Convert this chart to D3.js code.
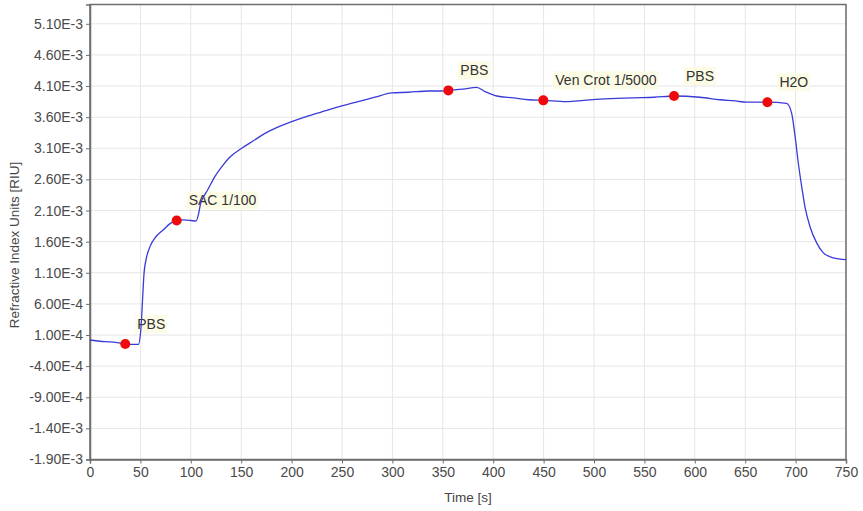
<!DOCTYPE html>
<html>
<head>
<meta charset="utf-8">
<script src="https://cdn.jsdelivr.net/npm/d3@7"></script>
<style>
  body { margin: 0; background: #fff; }
  svg { display: block; font-family: "Liberation Sans", Arial, sans-serif; }
</style>
</head>
<body>
<div id="chart"></div>
<script>
// sensorgram, time in s, response in RIU
const time = [0, 10, 20, 30, 35, 42, 48, 50.5, 52.3, 53.6, 55.6, 59.5, 64.5, 72.8, 79.4, 86, 92.6, 100, 105.2,
    107.5, 109.8, 112, 116.7, 124, 130.6, 138.9, 150.5, 162, 173.6, 183.5, 200, 216.6, 233, 249.7, 266, 282.7,
    299.3, 315.8, 335.6, 348.9, 355.5, 370, 383.6, 392, 403.5, 420, 435, 449.7, 472.9, 490, 506, 539, 560,
    579.4, 605, 625, 640, 651.5, 672, 691, 696, 699.5, 702.7, 706, 709.3, 714.3, 720.9, 727.5, 737.4, 750];
const riu = [0.02, 0.00, -0.01, -0.03, -0.045, -0.05, -0.05, 0.2, 0.72, 1.09, 1.31, 1.52, 1.66, 1.79, 1.89, 1.94,
    1.95, 1.94, 1.93, 2.03, 2.22, 2.30, 2.43, 2.65, 2.80, 2.96, 3.10, 3.22, 3.34, 3.42, 3.53, 3.62, 3.70, 3.78,
    3.85, 3.92, 3.99, 4.00, 4.02, 4.02, 4.03, 4.05, 4.08, 4.01, 3.94, 3.91, 3.88, 3.87, 3.85, 3.87, 3.89, 3.91,
    3.92, 3.94, 3.92, 3.88, 3.86, 3.84, 3.84, 3.82, 3.67, 3.29, 2.86, 2.49, 2.16, 1.84, 1.58, 1.42, 1.34, 1.31]
    .map(v => v * 1e-3);

// injection markers
const eventTime = [35, 86, 355.5, 449.7, 579.4, 672];
const eventRiu = [-0.045e-3, 1.94e-3, 4.03e-3, 3.87e-3, 3.94e-3, 3.84e-3];
const eventLabel = ["PBS", "SAC 1/100", "PBS", "Ven Crot 1/5000", "PBS", "H2O"];

const xTicks = d3.range(0, 751, 50);
const yTicks = d3.range(0, 15).map(i => -1.9e-3 + i * 5e-4);

const width = 863, height = 511;
const margin = {top: 4.5, right: 17, bottom: 51.5, left: 90};

const svg = d3.select("#chart").append("svg")
    .attr("width", width)
    .attr("height", height);

const x = d3.scaleLinear().domain([0, 750]).range([margin.left, width - margin.right]);
const y = d3.scaleLinear().domain([-1.9e-3, 5.41e-3]).range([height - margin.bottom, margin.top]);

// grid
svg.append("g")
    .selectAll("line")
    .data(xTicks)
    .enter().append("line")
    .attr("x1", d => x(d)).attr("x2", d => x(d))
    .attr("y1", y.range()[1]).attr("y2", y.range()[0])
    .attr("stroke", "#e6e6e6");

svg.append("g")
    .selectAll("line")
    .data(yTicks)
    .enter().append("line")
    .attr("x1", x.range()[0]).attr("x2", x.range()[1])
    .attr("y1", d => y(d)).attr("y2", d => y(d))
    .attr("stroke", "#e6e6e6");

// frame
svg.append("rect")
    .attr("x", x.range()[0]).attr("y", y.range()[1])
    .attr("width", x.range()[1] - x.range()[0])
    .attr("height", y.range()[0] - y.range()[1])
    .attr("fill", "none")
    .attr("stroke", "#6e6e6e")
    .attr("stroke-width", 1.5);

// axes
const xAxis = svg.append("g")
    .attr("transform", `translate(0,${y.range()[0]})`)
    .call(d3.axisBottom(x).tickValues(xTicks).tickSize(4).tickPadding(4));
const yAxis = svg.append("g")
    .attr("transform", `translate(${x.range()[0]},0)`)
    .call(d3.axisLeft(y).tickValues(yTicks).tickSize(4).tickPadding(3)
        .tickFormat(d => d.toExponential(2).replace("e", "E")));

[xAxis, yAxis].forEach(a => {
    a.select(".domain").attr("stroke", "#6e6e6e").attr("stroke-width", 1.5);
    a.selectAll(".tick line").attr("stroke", "#6e6e6e");
    a.selectAll(".tick text")
        .attr("fill", "#4a4a4a")
        .style("font-size", "14px")
        .style("font-family", "'Liberation Sans', Arial, sans-serif");
});

svg.append("text")
    .attr("x", (x.range()[0] + x.range()[1]) / 2)
    .attr("y", 502)
    .attr("text-anchor", "middle")
    .attr("fill", "#444")
    .style("font-size", "13.5px")
    .text("Time [s]");

svg.append("text")
    .attr("transform", "translate(14,245) rotate(-90)")
    .attr("text-anchor", "middle")
    .attr("dominant-baseline", "central")
    .attr("fill", "#444")
    .style("font-size", "13.5px")
    .text("Refractive Index Units [RIU]");

const events = eventTime.map((t, i) => ({t: t, v: eventRiu[i], label: eventLabel[i]}));

// label boxes under the trace
const labels = svg.append("g")
    .selectAll("g")
    .data(events)
    .enter().append("g")
    .attr("transform", d => `translate(${x(d.t) + 12},${y(d.v) - 20})`);

const labelText = labels.append("text")
    .attr("dominant-baseline", "central")
    .attr("fill", "#333")
    .style("font-size", "14px")
    .text(d => d.label);

labelText.each(function() {
    const b = this.getBBox();
    d3.select(this.parentNode).insert("rect", "text")
        .attr("x", b.x - 2).attr("y", b.y - 1)
        .attr("width", b.width + 4).attr("height", b.height + 2)
        .attr("fill", "#fbfbe2")
        .attr("opacity", 0.85);
});

const line = d3.line()
    .x((d, i) => x(time[i]))
    .y(d => y(d))
    .curve(d3.curveMonotoneX);

svg.append("path")
    .datum(riu)
    .attr("d", line)
    .attr("fill", "none")
    .attr("stroke", "#3a3ad8")
    .attr("stroke-width", 1.3);

svg.append("g")
    .selectAll("circle")
    .data(events)
    .enter().append("circle")
    .attr("cx", d => x(d.t))
    .attr("cy", d => y(d.v))
    .attr("r", 5)
    .attr("fill", "#ee0a0a");
</script>
</body>
</html>
